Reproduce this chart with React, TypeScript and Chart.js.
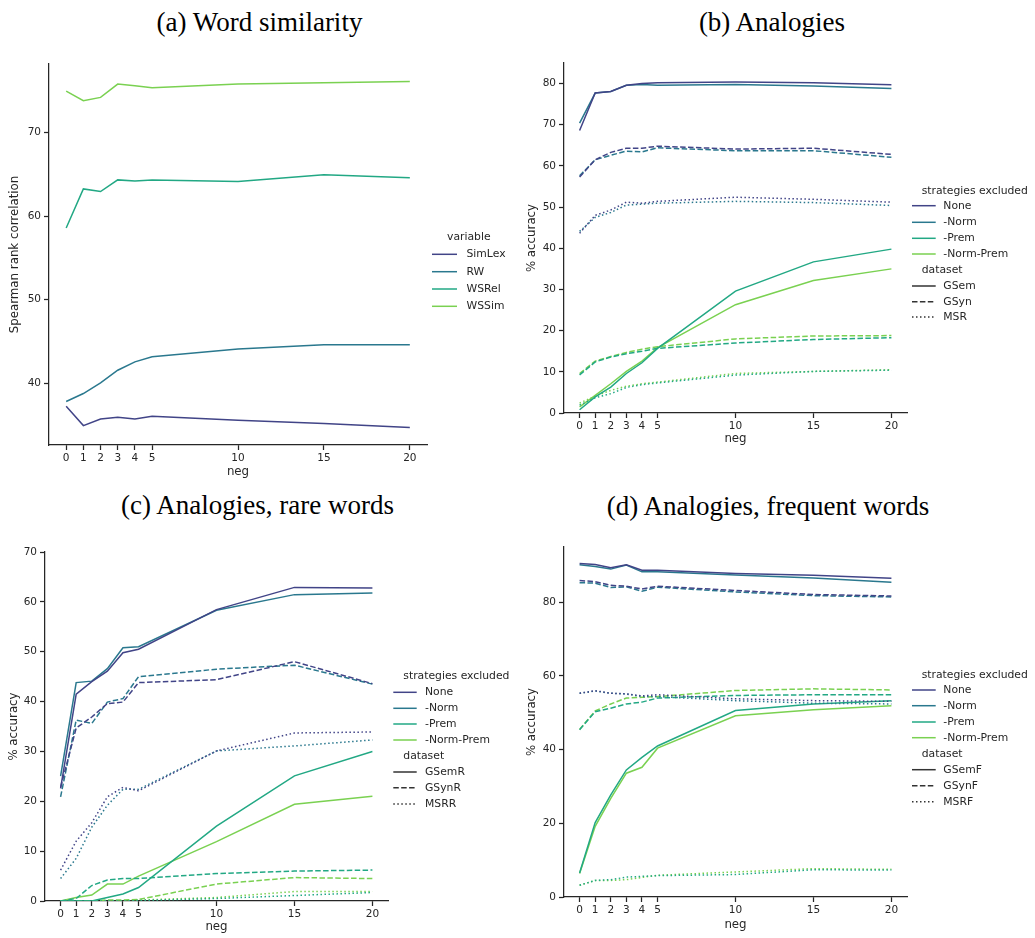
import React, { useEffect, useRef } from "react";
import { Chart, registerables } from "chart.js";

Chart.register(...registerables);

// x positions (number of negative samples) and the ticks shown on every x axis
const negValues = [0, 1, 2, 3, 4, 5, 10, 15, 20];
const negTicks = [0, 1, 2, 3, 4, 5, 10, 15, 20];

// (a) word similarity, Spearman rank correlation
const simLex = [37.24, 34.92, 35.72, 35.92, 35.72, 36.04, 35.56, 35.16, 34.68];
const rw = [37.8, 38.76, 40.04, 41.55, 42.55, 43.15, 44.1, 44.6, 44.6];
const wsRel = [58.57, 63.25, 62.93, 64.33, 64.2, 64.33, 64.13, 64.93, 64.6];
const wsSim = [74.95, 73.8, 74.2, 75.8, 75.6, 75.35, 75.8, 75.95, 76.1];

// (b) analogies, % accuracy
const gsemNone = [68.6, 77.7, 78.1, 79.6, 80.0, 80.2, 80.4, 80.2, 79.7];
const gsemNorm = [70.4, 77.7, 78.1, 79.6, 79.8, 79.6, 79.8, 79.4, 78.8];
const gsemPrem = [0.8, 3.9, 6.3, 9.6, 12.2, 15.7, 29.6, 36.7, 39.8];
const gsemNormPrem = [1.5, 4.3, 7.1, 10.1, 12.6, 15.9, 26.3, 32.2, 35.0];
const gsynNone = [57.3, 61.5, 63.3, 64.3, 64.3, 64.8, 64.1, 64.3, 62.8];
const gsynNorm = [57.6, 61.5, 62.6, 63.6, 63.4, 64.4, 63.7, 63.7, 62.1];
const gsynPrem = [9.25, 12.4, 13.6, 14.4, 15.0, 15.7, 17.0, 17.85, 18.3];
const gsynNormPrem = [9.6, 12.6, 13.7, 14.7, 15.5, 16.1, 18.0, 18.7, 18.8];
const msrNone = [43.65, 48.0, 49.3, 51.2, 50.95, 51.4, 52.4, 51.9, 51.2];
const msrNorm = [44.1, 47.5, 48.7, 50.5, 50.7, 50.95, 51.4, 51.1, 50.4];
const msrPrem = [1.9, 3.7, 4.7, 6.2, 6.9, 7.3, 9.2, 10.1, 10.4];
const msrNormPrem = [2.4, 4.1, 5.5, 6.5, 7.1, 7.5, 9.6, 10.1, 10.5];

// (c) analogies on rare words, % accuracy
const gsemRNone = [22.6, 41.5, 44.0, 46.1, 49.8, 50.5, 58.45, 62.9, 62.8];
const gsemRNorm = [25.05, 43.8, 44.1, 46.6, 50.8, 51.0, 58.3, 61.45, 61.8];
const gsemRPrem = [0, 0, 0, 0.7, 1.4, 2.7, 15.0, 25.1, 30.0];
const gsemRNormPrem = [0, 0.7, 1.2, 3.4, 3.4, 5.0, 11.9, 19.4, 21.0];
const gsynRNone = [22.8, 34.7, 36.9, 39.6, 39.9, 43.8, 44.4, 48.0, 43.6];
const gsynRNorm = [20.9, 36.3, 35.6, 39.9, 40.6, 45.0, 46.5, 47.3, 43.5];
const gsynRPrem = [0, 0.5, 3.1, 4.2, 4.5, 4.5, 5.5, 6.0, 6.2];
const gsynRNormPrem = [0, 0, 0, 0.2, 0.2, 0.3, 3.4, 4.7, 4.5];
const msrrNone = [6.2, 12.0, 15.7, 20.9, 22.8, 22.1, 30.1, 33.7, 33.9];
const msrrNorm = [4.5, 8.55, 14.8, 19.2, 22.4, 22.4, 30.1, 31.1, 32.3];
const msrrPrem = [0, 0, 0, 0, 0, 0.1, 0.5, 1.1, 1.7];
const msrrNormPrem = [0, 0, 0, 0, 0, 0.2, 0.7, 1.9, 1.9];

// (d) analogies on frequent words, % accuracy
const gsemFNone = [90.5, 90.25, 89.4, 90.2, 88.7, 88.7, 87.8, 87.35, 86.5];
const gsemFNorm = [90.2, 89.7, 89.0, 90.1, 88.25, 88.25, 87.4, 86.6, 85.4];
const gsemFPrem = [6.5, 20.2, 27.7, 34.5, 37.9, 41.0, 50.6, 52.4, 53.3];
const gsemFNormPrem = [6.35, 19.2, 26.8, 33.6, 35.2, 40.4, 49.2, 50.8, 51.9];
const gsynFNone = [85.9, 85.6, 84.6, 84.35, 83.6, 84.35, 83.2, 82.1, 81.7];
const gsynFNorm = [85.3, 85.2, 84.0, 84.2, 83.0, 84.1, 82.8, 81.8, 81.45];
const gsynFPrem = [45.4, 50.3, 51.25, 52.4, 52.9, 54.0, 54.7, 54.9, 54.9];
const gsynFNormPrem = [45.5, 50.5, 52.4, 54.0, 54.2, 54.4, 56.05, 56.5, 56.2];
const msrfNone = [55.3, 56.0, 55.3, 55.15, 54.6, 54.9, 53.8, 53.3, 53.1];
const msrfNorm = [55.3, 55.9, 55.3, 55.1, 54.4, 54.4, 53.3, 52.6, 52.4];
const msrfPrem = [3.2, 4.5, 4.7, 5.4, 5.6, 5.8, 6.1, 7.4, 7.3];
const msrfNormPrem = [3.2, 4.5, 4.5, 4.7, 5.3, 5.9, 6.8, 7.7, 7.5];

// axis ticks and limits
const yTicksA = [40, 50, 60, 70];
const yTicksB = [0, 10, 20, 30, 40, 50, 60, 70, 80];
const yTicksC = [0, 10, 20, 30, 40, 50, 60, 70];
const yTicksD = [0, 20, 40, 60, 80];

const variableNames = ["SimLex", "RW", "WSRel", "WSSim"];
const strategyNames = ["None", "-Norm", "-Prem", "-Norm-Prem"];
const viridis = ["#414487", "#2a788e", "#22a884", "#7ad151"];

const SOLID: number[] = [];
const DASHED = [5.5, 2.4];
const DOTTED = [1.5, 2.5];
const styleGray = "#333333";
const inkColor = "#262626";
const sansFamily = "'DejaVu Sans', sans-serif";
const TICK_SIZE = 10.5;
const LEGEND_SIZE = 10.8;
const LABEL_SIZE = 11.8;
const LABEL_LH = LABEL_SIZE * 1.2;
const TITLE_SIZE = 27;

type Series = { label: string; values: number[]; color: string; dash: number[] };
type LegendRow = { y: number; text: string; title?: boolean; color?: string; dash?: number[] };
type Panel = {
  key: string;
  title: string;
  titleCenter: number;
  titleBaseline: number;
  box: { left: number; top: number; width: number; height: number };
  plot: { L: number; T: number; R: number; B: number };
  yTitle: string;
  yTitleX: number;
  xTitleY: number;
  yMin: number;
  yMax: number;
  yTicks: number[];
  series: Series[];
  legend: { titleX: number; handleX0: number; handleX1: number; textX: number; rows: LegendRow[] };
};

// builds the twelve strategy x dataset lines, strategy-major order
function groupedSeries(datasets: string[], table: number[][][]): Series[] {
  const out: Series[] = [];
  strategyNames.forEach((s, i) => {
    datasets.forEach((d, j) => {
      out.push({ label: `${s} ${d}`, values: table[i][j], color: viridis[i], dash: [SOLID, DASHED, DOTTED][j] });
    });
  });
  return out;
}

function groupedLegend(datasets: string[], ys: number[], legendX: { titleX: number; handleX0: number; handleX1: number; textX: number }) {
  const rows: LegendRow[] = [{ y: ys[0], text: "strategies excluded", title: true }];
  strategyNames.forEach((s, i) => rows.push({ y: ys[1 + i], text: s, color: viridis[i], dash: SOLID }));
  rows.push({ y: ys[5], text: "dataset", title: true });
  datasets.forEach((d, j) => rows.push({ y: ys[6 + j], text: d, color: styleGray, dash: [SOLID, DASHED, DOTTED][j] }));
  return { ...legendX, rows };
}

const panels: Panel[] = [
  {
    key: "a",
    title: "(a) Word similarity",
    titleCenter: 259.5,
    titleBaseline: 31.5,
    box: { left: 0, top: 40, width: 515, height: 450 },
    plot: { L: 49, T: 64, R: 427, B: 445 },
    yTitle: "Spearman rank correlation",
    yTitleX: 15,
    xTitleY: 472,
    yMin: 32.6,
    yMax: 78.2,
    yTicks: yTicksA,
    series: [simLex, rw, wsRel, wsSim].map((v, i) => ({ label: variableNames[i], values: v, color: viridis[i], dash: SOLID })),
    legend: {
      titleX: 447,
      handleX0: 432,
      handleX1: 457,
      textX: 466.5,
      rows: [
        { y: 237, text: "variable", title: true },
        ...variableNames.map((n, i) => ({ y: [254.3, 271.7, 289, 306.3][i], text: n, color: viridis[i], dash: SOLID })),
      ],
    },
  },
  {
    key: "b",
    title: "(b) Analogies",
    titleCenter: 772,
    titleBaseline: 31.5,
    box: { left: 517, top: 40, width: 518, height: 430 },
    plot: { L: 564, T: 63, R: 907, B: 413 },
    yTitle: "% accuracy",
    yTitleX: 532,
    xTitleY: 439,
    yMin: 0,
    yMax: 85,
    yTicks: yTicksB,
    series: groupedSeries(["GSem", "GSyn", "MSR"], [
      [gsemNone, gsynNone, msrNone],
      [gsemNorm, gsynNorm, msrNorm],
      [gsemPrem, gsynPrem, msrPrem],
      [gsemNormPrem, gsynNormPrem, msrNormPrem],
    ]),
    legend: groupedLegend(["GSem", "GSyn", "MSR"], [190.7, 205.7, 222.3, 238.3, 254, 270, 286, 301.7, 317], {
      titleX: 921.7,
      handleX0: 912,
      handleX1: 935.7,
      textX: 943.3,
    }),
  },
  {
    key: "c",
    title: "(c) Analogies, rare words",
    titleCenter: 257.5,
    titleBaseline: 515,
    box: { left: 0, top: 530, width: 515, height: 408 },
    plot: { L: 45, T: 552, R: 388, B: 901 },
    yTitle: "% accuracy",
    yTitleX: 14,
    xTitleY: 927,
    yMin: 0,
    yMax: 70,
    yTicks: yTicksC,
    series: groupedSeries(["GSemR", "GSynR", "MSRR"], [
      [gsemRNone, gsynRNone, msrrNone],
      [gsemRNorm, gsynRNorm, msrrNorm],
      [gsemRPrem, gsynRPrem, msrrPrem],
      [gsemRNormPrem, gsynRNormPrem, msrrNormPrem],
    ]),
    legend: groupedLegend(["GSemR", "GSynR", "MSRR"], [676, 692.3, 708.3, 724, 740, 756, 772, 787.7, 804], {
      titleX: 403.3,
      handleX0: 393.3,
      handleX1: 416.7,
      textX: 425,
    }),
  },
  {
    key: "d",
    title: "(d) Analogies, frequent words",
    titleCenter: 768,
    titleBaseline: 515.5,
    box: { left: 517, top: 530, width: 518, height: 408 },
    plot: { L: 564, T: 547, R: 907, B: 897 },
    yTitle: "% accuracy",
    yTitleX: 532,
    xTitleY: 925,
    yMin: 0,
    yMax: 95,
    yTicks: yTicksD,
    series: groupedSeries(["GSemF", "GSynF", "MSRF"], [
      [gsemFNone, gsynFNone, msrfNone],
      [gsemFNorm, gsynFNorm, msrfNorm],
      [gsemFPrem, gsynFPrem, msrfPrem],
      [gsemFNormPrem, gsynFNormPrem, msrfNormPrem],
    ]),
    legend: groupedLegend(["GSemF", "GSynF", "MSRF"], [675, 690, 705.7, 722, 737.7, 753.7, 769.7, 785.7, 801.7], {
      titleX: 921.7,
      handleX0: 912,
      handleX1: 935.7,
      textX: 943.3,
    }),
  },
];

function buildChart(canvas: HTMLCanvasElement, p: Panel): Chart {
  const { box, plot } = p;
  const yTitleLeft = p.yTitleX - LABEL_LH / 2;
  const xTitleBottom = p.xTitleY + LABEL_LH / 2;
  const yAxisWidth = plot.L - yTitleLeft;
  const xAxisHeight = xTitleBottom - plot.B;

  const tickFont = { family: sansFamily, size: TICK_SIZE };
  const labelFont = { family: sansFamily, size: LABEL_SIZE, lineHeight: 1.2 };
  const gridOpts = {
    display: true,
    drawOnChartArea: false,
    drawTicks: true,
    tickLength: 5,
    tickWidth: 1.25,
    tickColor: inkColor,
  };
  const borderOpts = { display: true, color: inkColor, width: 1.25 };

  // side legend drawn next to the axes
  const sideLegend = {
    id: `sideLegend-${p.key}`,
    afterDraw(chart: Chart) {
      const ctx = chart.ctx;
      ctx.save();
      ctx.font = `${LEGEND_SIZE}px ${sansFamily}`;
      ctx.textBaseline = "middle";
      ctx.textAlign = "left";
      for (const row of p.legend.rows) {
        const y = row.y - box.top;
        ctx.fillStyle = inkColor;
        if (row.title) {
          ctx.fillText(row.text, p.legend.titleX - box.left, y);
          continue;
        }
        ctx.beginPath();
        ctx.strokeStyle = row.color || inkColor;
        ctx.lineWidth = 1.5;
        ctx.lineCap = "butt";
        ctx.setLineDash(row.dash || []);
        ctx.moveTo(p.legend.handleX0 - box.left, y);
        ctx.lineTo(p.legend.handleX1 - box.left, y);
        ctx.stroke();
        ctx.setLineDash([]);
        ctx.fillText(row.text, p.legend.textX - box.left, y);
      }
      ctx.restore();
    },
  };

  return new Chart(canvas, {
    type: "line",
    data: {
      datasets: p.series.map((s) => ({
        label: s.label,
        data: negValues.map((x, j) => ({ x, y: s.values[j] })),
        borderColor: s.color,
        backgroundColor: s.color,
        borderWidth: 1.5,
        borderDash: s.dash,
        borderCapStyle: "butt" as const,
        pointRadius: 0,
        tension: 0,
        fill: false,
      })),
    },
    options: {
      animation: false,
      responsive: false,
      events: [],
      layout: {
        padding: {
          left: yTitleLeft - box.left,
          top: plot.T - box.top,
          right: box.left + box.width - plot.R,
          bottom: box.top + box.height - xTitleBottom,
        },
      },
      plugins: {
        legend: { display: false },
        tooltip: { enabled: false },
      },
      scales: {
        x: {
          type: "linear",
          min: -1,
          max: 21,
          afterBuildTicks: (scale: any) => {
            scale.ticks = negTicks.map((v) => ({ value: v }));
          },
          afterFit: (scale: any) => {
            scale.height = xAxisHeight;
          },
          grid: gridOpts,
          border: borderOpts,
          ticks: {
            font: tickFont,
            color: inkColor,
            padding: 2,
            maxRotation: 0,
            autoSkip: false,
            callback: (v: any) => String(v),
          },
          title: {
            display: true,
            text: "neg",
            font: labelFont,
            color: inkColor,
            padding: { top: 0, bottom: 0 },
          },
        },
        y: {
          type: "linear",
          min: p.yMin,
          max: p.yMax,
          afterBuildTicks: (scale: any) => {
            scale.ticks = p.yTicks.map((v) => ({ value: v }));
          },
          afterFit: (scale: any) => {
            scale.width = yAxisWidth;
          },
          grid: gridOpts,
          border: borderOpts,
          ticks: {
            font: tickFont,
            color: inkColor,
            padding: 3,
            autoSkip: false,
            callback: (v: any) => String(v),
          },
          title: {
            display: true,
            text: p.yTitle,
            font: labelFont,
            color: inkColor,
            padding: { top: 0, bottom: 0 },
          },
        },
      },
    } as any,
    plugins: [sideLegend],
  });
}

export default function App() {
  const refs = useRef<(HTMLCanvasElement | null)[]>([]);

  useEffect(() => {
    const charts = panels.map((p, i) => buildChart(refs.current[i] as HTMLCanvasElement, p));
    return () => charts.forEach((c) => c.destroy());
  }, []);

  return (
    <div
      style={{
        position: "absolute",
        left: 0,
        top: 0,
        width: 1035,
        height: 938,
        background: "#ffffff",
        overflow: "hidden",
      }}
    >
      {panels.map((p) => (
        <div
          key={`title-${p.key}`}
          style={{
            position: "absolute",
            left: p.titleCenter - 250,
            top: p.titleBaseline - 22.6,
            width: 500,
            textAlign: "center",
            fontFamily: "'Liberation Serif', 'Times New Roman', serif",
            fontSize: TITLE_SIZE,
            lineHeight: `${TITLE_SIZE}px`,
            color: "#000000",
            whiteSpace: "nowrap",
          }}
        >
          {p.title}
        </div>
      ))}
      {panels.map((p, i) => (
        <canvas
          key={`canvas-${p.key}`}
          ref={(el) => {
            refs.current[i] = el;
          }}
          width={p.box.width}
          height={p.box.height}
          style={{
            position: "absolute",
            left: p.box.left,
            top: p.box.top,
            width: p.box.width,
            height: p.box.height,
          }}
        />
      ))}
    </div>
  );
}
